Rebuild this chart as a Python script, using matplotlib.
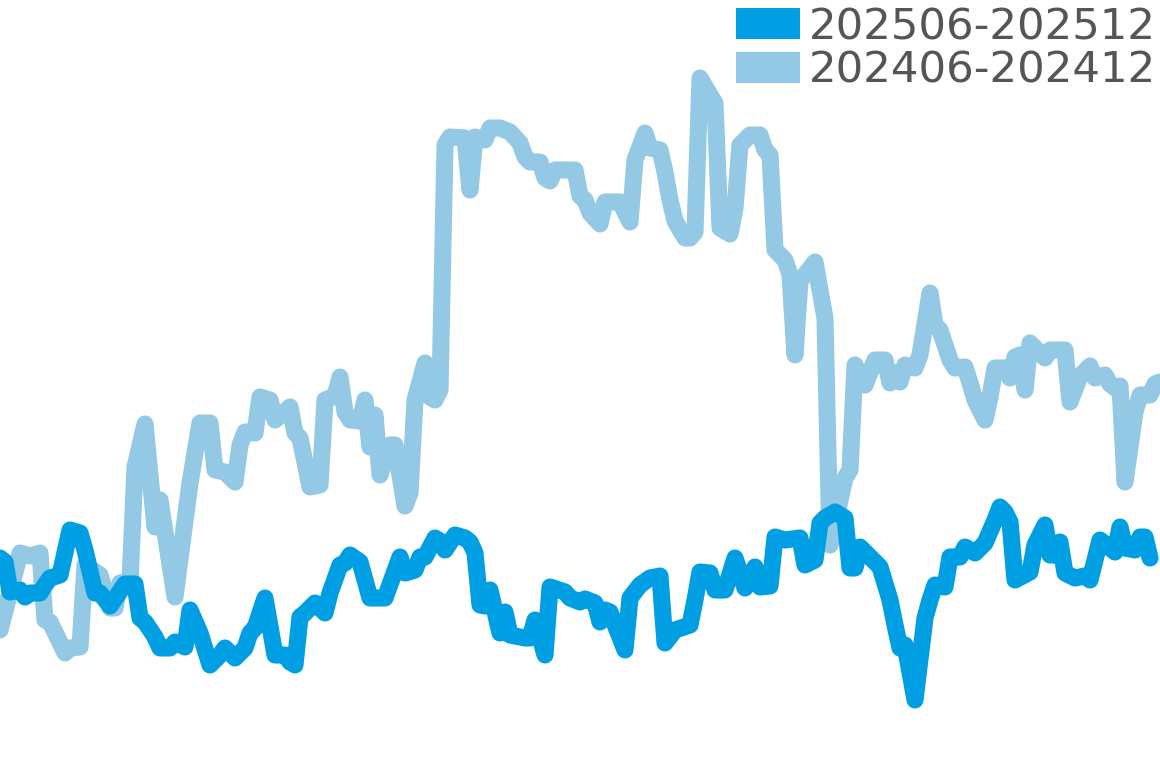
import matplotlib
matplotlib.use("Agg")
import matplotlib.pyplot as plt
from matplotlib.patches import Rectangle

# ---- data (day index within the period, index value) ----
labels = ["202506-202512", "202406-202412"]

days_2024 = [0, 4, 6, 8, 9, 10, 13, 14, 16, 17,
             20, 22, 23, 24, 26, 27, 29, 31, 32, 35,
             38, 40, 42, 43, 45, 47, 48, 49, 51, 52,
             54, 55, 58, 59, 60, 62, 64, 65, 67, 68,
             69, 70, 72, 73, 74, 75, 76, 78, 79, 81,
             82, 83, 85, 86, 87, 88, 89, 90, 93, 94,
             95, 97, 98, 100, 102, 104, 105, 106, 108, 109,
             110, 111, 115, 116, 117, 118, 120, 121, 124, 126,
             127, 129, 130, 132, 133, 134, 135, 137, 138, 139,
             140, 142, 143, 144, 146, 147, 148, 150, 152, 153,
             154, 155, 157, 158, 159, 160, 161, 163, 165, 166,
             169, 170, 171, 173, 175, 177, 178, 179, 180, 181,
             183, 184, 186, 187, 188, 190, 191, 193, 194, 195,
             197, 198, 199, 201, 202, 203, 204, 205, 206, 209,
             210, 213, 214, 216, 218, 219, 221, 222, 223, 224,
             225, 227, 228, 230, 231, 232]
values_2024 = [13.8, 21.5, 21.2, 21.5, 14.8, 14.6, 11.5, 12.0, 12.1, 20.3,
               19.3, 16.0, 16.0, 18.5, 18.6, 30.1, 34.4, 24.1, 26.8, 17.1,
               28.5, 34.5, 34.5, 29.8, 29.6, 28.6, 32.3, 33.6, 33.5, 37.1,
               36.8, 34.8, 36.1, 33.5, 33.0, 28.1, 28.3, 36.8, 37.2, 39.1,
               35.6, 34.8, 34.7, 36.8, 32.1, 35.3, 29.3, 32.3, 32.3, 26.2,
               27.5, 36.8, 40.5, 37.1, 36.8, 37.8, 62.3, 63.1, 63.0, 57.8,
               63.1, 62.8, 64.0, 64.0, 63.6, 62.5, 61.1, 60.6, 60.6, 59.0,
               58.7, 59.8, 59.8, 57.2, 56.8, 55.5, 54.4, 56.6, 56.6, 54.6,
               60.8, 63.5, 62.0, 61.8, 59.6, 56.8, 54.7, 53.0, 53.0, 53.6,
               69.0, 67.3, 66.5, 54.0, 53.4, 56.0, 62.3, 63.3, 63.3, 61.8,
               61.3, 51.8, 50.8, 49.3, 41.3, 48.8, 49.3, 50.6, 45.0, 22.3,
               29.0, 29.8, 40.3, 38.3, 40.8, 40.8, 38.5, 39.5, 38.6, 40.3,
               40.0, 41.3, 47.5, 44.3, 43.8, 40.8, 40.0, 40.1, 38.5, 36.8,
               34.8, 37.1, 40.0, 40.0, 39.0, 41.1, 41.3, 37.8, 42.5, 41.0,
               41.8, 41.8, 36.6, 39.2, 40.2, 39.0, 39.3, 38.4, 38.0, 38.2,
               28.6, 35.6, 37.3, 37.3, 38.4, 38.6]

days_2025 = [0, 1, 2, 4, 5, 6, 8, 9, 10, 12,
             14, 16, 17, 19, 20, 22, 25, 27, 28, 29,
             31, 32, 34, 35, 37, 38, 40, 42, 44, 45,
             47, 49, 50, 51, 53, 55, 57, 58, 59, 60,
             61, 63, 65, 66, 68, 69, 70, 72, 74, 77,
             80, 81, 83, 84, 85, 87, 88, 89, 91, 93,
             94, 95, 96, 97, 98, 100, 101, 102, 105, 106,
             107, 109, 110, 113, 114, 116, 117, 119, 120, 121,
             122, 125, 126, 128, 130, 132, 133, 135, 138, 139,
             140, 142, 143, 145, 147, 149, 151, 152, 154, 155,
             157, 160, 161, 163, 164, 165, 167, 169, 170, 171,
             172, 174, 176, 178, 179, 180, 181, 183, 185, 186,
             187, 189, 190, 192, 193, 195, 197, 199, 200, 201,
             202, 203, 206, 207, 209, 210, 211, 212, 213, 215,
             217, 218, 220, 223, 224, 225, 227, 228, 229, 230]
values_2025 = [21.0, 20.6, 17.6, 17.8, 17.1, 17.5, 17.5, 18.3, 19.0, 19.3,
               23.8, 23.5, 21.8, 17.5, 17.5, 16.2, 18.4, 18.4, 15.0, 14.6,
               13.1, 12.0, 12.0, 12.6, 12.1, 15.8, 13.5, 10.3, 11.3, 12.0,
               11.0, 12.0, 13.5, 14.0, 17.0, 11.3, 11.3, 10.6, 10.3, 15.1,
               15.5, 16.5, 15.5, 17.5, 20.3, 20.5, 21.3, 20.6, 17.0, 17.0,
               21.1, 19.5, 19.8, 21.1, 21.1, 23.0, 22.7, 21.8, 23.3, 23.0,
               22.6, 21.5, 16.3, 16.2, 17.8, 13.5, 15.6, 13.3, 13.0, 13.0,
               14.8, 11.3, 18.1, 17.6, 17.0, 16.6, 16.9, 16.5, 14.6, 15.8,
               15.6, 11.8, 17.0, 18.3, 19.0, 19.2, 12.5, 13.8, 14.3, 16.8,
               19.6, 19.5, 17.8, 17.8, 21.0, 18.0, 20.1, 18.1, 18.2, 23.1,
               22.8, 23.0, 20.3, 20.8, 24.5, 25.0, 25.6, 25.0, 20.0, 20.0,
               22.1, 21.1, 20.1, 16.8, 14.3, 12.0, 12.3, 6.8, 15.0, 16.8,
               18.3, 18.1, 21.1, 21.1, 22.1, 21.5, 22.5, 24.8, 26.1, 25.6,
               24.6, 18.8, 19.6, 22.3, 24.3, 21.3, 21.3, 22.6, 19.5, 19.0,
               19.2, 18.8, 22.8, 21.6, 24.1, 22.0, 21.8, 23.1, 23.1, 21.0]

# ---- styling ----
color_2025 = "#009FE3"
color_2024 = "#93C9E4"
text_color = "#555555"
W, H = 1160, 768
LW = 12.3

fig = plt.figure(figsize=(W / 100, H / 100), dpi=100)
ax = fig.add_axes([0, 0, 1, 1])
ax.plot(days_2024, values_2024, color=color_2024, lw=LW,
        solid_joinstyle="round", solid_capstyle="round", zorder=2)
ax.plot(days_2025, values_2025, color=color_2025, lw=LW,
        solid_joinstyle="round", solid_capstyle="round", zorder=3)
ax.set_xlim(0, 232)
ax.set_ylim(0, 76.8)
ax.axis("off")

# ---- legend (top right) ----
for i, (lab, col) in enumerate(zip(labels, [color_2025, color_2024])):
    base = 39.3 + i * 43.4          # baseline in pixels from top
    fig.add_artist(Rectangle((736 / W, 1 - base / H), 64 / W, 31 / H,
                             transform=fig.transFigure, facecolor=col,
                             edgecolor="none"))
    fig.text(809 / W, 1 - base / H, lab, fontsize=31.3, color=text_color,
             ha="left", va="baseline", family="DejaVu Sans")

fig.savefig("out.png", dpi=100)
